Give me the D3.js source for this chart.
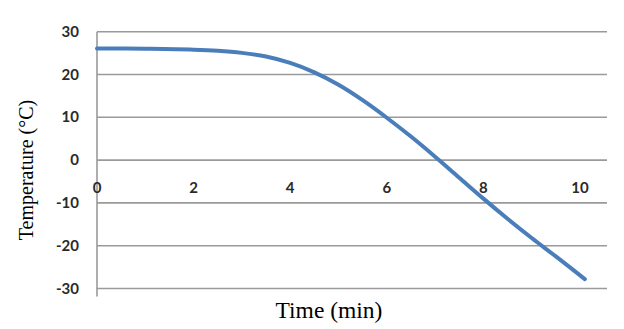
<!DOCTYPE html>
<html>
<head>
<meta charset="utf-8">
<script src="https://cdn.jsdelivr.net/npm/d3@7"></script>
<style>
  body { margin: 0; background: #fff; }
  svg { display: block; }
</style>
</head>
<body>
<div id="chart"></div>
<script>
// data
var times = [0, 1, 2, 2.5, 3, 3.5, 4, 4.5, 5, 5.5, 6, 6.5, 7, 7.5, 8, 8.5, 9, 9.5, 10.1];
var temps = [26.1, 26.0, 25.8, 25.55, 25.05, 24.2, 22.7, 20.5, 17.6, 14.0, 9.9, 5.5, 0.8, -4.1, -9.0, -13.7, -18.2, -22.5, -27.8];
var xTicks = [0, 2, 4, 6, 8, 10];
var yTicks = [30, 20, 10, 0, -10, -20, -30];

var W = 624, H = 329;
var svg = d3.select("#chart").append("svg")
  .attr("width", W)
  .attr("height", H);

var x = d3.scaleLinear().domain([0, 10]).range([97, 580]);
var y = d3.scaleLinear().domain([-30, 30]).range([288.5, 31.7]);
var xRight = 607;

// horizontal gridlines
svg.append("g")
  .selectAll("line")
  .data(yTicks)
  .join("line")
    .attr("x1", x(0))
    .attr("x2", xRight)
    .attr("y1", d => y(d))
    .attr("y2", d => y(d))
    .attr("stroke", "#9a9a9a")
    .attr("stroke-width", 1.6);

// vertical axis line
svg.append("line")
  .attr("x1", x(0)).attr("x2", x(0))
  .attr("y1", y(30)).attr("y2", y(-30) + 8)
  .attr("stroke", "#9a9a9a")
  .attr("stroke-width", 1.6);

// y tick labels
svg.append("g")
  .selectAll("text")
  .data(yTicks)
  .join("text")
    .attr("x", 79)
    .attr("y", d => y(d) + 5)
    .attr("text-anchor", "end")
    .style("font-family", "Lato, 'Open Sans', sans-serif")
    .style("font-size", "15px")
    .style("font-weight", "bold")
    .style("fill", "#2a2a2a")
    .text(d => d);

// x tick labels sit just below the zero line
svg.append("g")
  .selectAll("text")
  .data(xTicks)
  .join("text")
    .attr("x", d => x(d))
    .attr("y", y(0) + 33)
    .attr("text-anchor", "middle")
    .style("font-family", "Lato, 'Open Sans', sans-serif")
    .style("font-size", "15px")
    .style("font-weight", "bold")
    .style("fill", "#2a2a2a")
    .text(d => d);

// the curve
var pts = times.map((t, i) => ({t: t, v: temps[i]}));
svg.append("path")
  .datum(pts)
  .attr("fill", "none")
  .attr("stroke", "#4a7ebb")
  .attr("stroke-width", 4)
  .attr("stroke-linecap", "round")
  .attr("d", d3.line()
    .x(d => x(d.t))
    .y(d => y(d.v))
    .curve(d3.curveCatmullRom.alpha(0.5))
  );

// axis titles
svg.append("text")
  .attr("transform", "translate(33," + 170 + ") rotate(-90)")
  .attr("text-anchor", "middle")
  .style("font-family", "'Liberation Serif', 'Times New Roman', serif")
  .style("font-size", "20px")
  .style("fill", "#000")
  .text("Temperature (°C)");

svg.append("text")
  .attr("x", 329)
  .attr("y", 318)
  .attr("text-anchor", "middle")
  .style("font-family", "'Liberation Serif', 'Times New Roman', serif")
  .style("font-size", "23.5px")
  .style("fill", "#000")
  .text("Time (min)");
</script>
</body>
</html>
